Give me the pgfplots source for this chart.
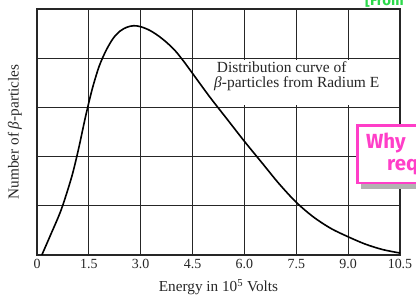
\documentclass[border=0pt]{standalone}
\usepackage{pgfplots}
\pgfplotsset{compat=1.18}
\usepackage{fontspec}
\setmainfont{Liberation Serif}
\newfontfamily\slidefont{Fira Sans}
\definecolor{slidepink}{HTML}{FF3EC8}
\definecolor{slidegreen}{HTML}{2BD94A}
\begin{document}
\begin{tikzpicture}[x=1bp,y=1bp]
\path[use as bounding box] (0,0) rectangle (416,297);
\begin{axis}[
  at={(37bp,42bp)}, anchor=south west,
  scale only axis, width=363bp, height=246bp,
  xmin=0, xmax=10.5, ymin=0, ymax=5,
  xtick={0,1.5,3,4.5,6,7.5,9,10.5},
  xticklabels={0,1.5,3.0,4.5,6.0,7.5,9.0,10.5},
  ytick={0,1,2,3,4,5}, yticklabels={},
  major tick length=0pt,
  grid=major, grid style={black!85, line width=1.1bp},
  axis line style={black!85, line width=1.2bp},
  /pgf/number format/assume math mode=true,
  tick label style={font=\fontsize{14}{16}\selectfont, text=black!85},
  xticklabel style={yshift=-0.5bp},
  xlabel={Energy in 10\textsuperscript{5} Volts},
  ylabel={Number of \textit{β}-particles},
  label style={font=\fontsize{15.3}{17}\selectfont, text=black!85},
  x label style={at={(axis description cs:0.5,-0.13)}, anchor=center},
  y label style={at={(axis description cs:-0.061,0.5)}, anchor=center},
]
\fill[white] (axis cs:4.85,3.04) rectangle (axis cs:10.46,3.96);
\addplot[black, line width=1.6bp, smooth] coordinates {
(0.14,0) (0.4,0.42) (0.7,0.92) (1.0,1.58) (1.2,2.15) (1.4,2.8) (1.6,3.38)
(1.8,3.84) (2.0,4.16) (2.2,4.40) (2.4,4.55) (2.6,4.63) (2.8,4.66) (3.0,4.64)
(3.25,4.57) (3.5,4.46) (3.75,4.32) (4.0,4.15) (4.25,3.93) (4.5,3.69)
(5.0,3.21) (5.5,2.76) (6.0,2.31)
(6.5,1.88) (7.0,1.45) (7.5,1.07) (8.0,0.77) (8.5,0.54) (9.0,0.37)
(9.5,0.22) (10.0,0.11) (10.5,0.04)
};
\node[anchor=base west, inner sep=0pt, font=\fontsize{15.5}{17}\selectfont, text=black!85] at (axis cs:5.2,3.70) {Distribution curve of};
\node[anchor=base west, inner sep=0pt, font=\fontsize{15.5}{17}\selectfont, text=black!85] at (axis cs:5.12,3.41) {\textit{β}-particles from Radium E};
\end{axis}
\fill[gray!60] (361,108) rectangle (425,113);
\draw[slidepink, line width=2.5bp, fill=white] (357.5,171.5) rectangle (430,114);
\node[anchor=base west, inner sep=0pt, text=slidepink, font=\slidefont\bfseries\fontsize{20.5}{22}\selectfont] at (366,149) {Why};
\node[anchor=base west, inner sep=0pt, text=slidepink, font=\slidefont\bfseries\fontsize{20.5}{22}\selectfont] at (387,127) {req};
\node[anchor=base west, inner sep=0pt, text=slidegreen, font=\slidefont\bfseries\fontsize{15}{16}\selectfont] at (365,292) {[From};
\end{tikzpicture}
\end{document}
